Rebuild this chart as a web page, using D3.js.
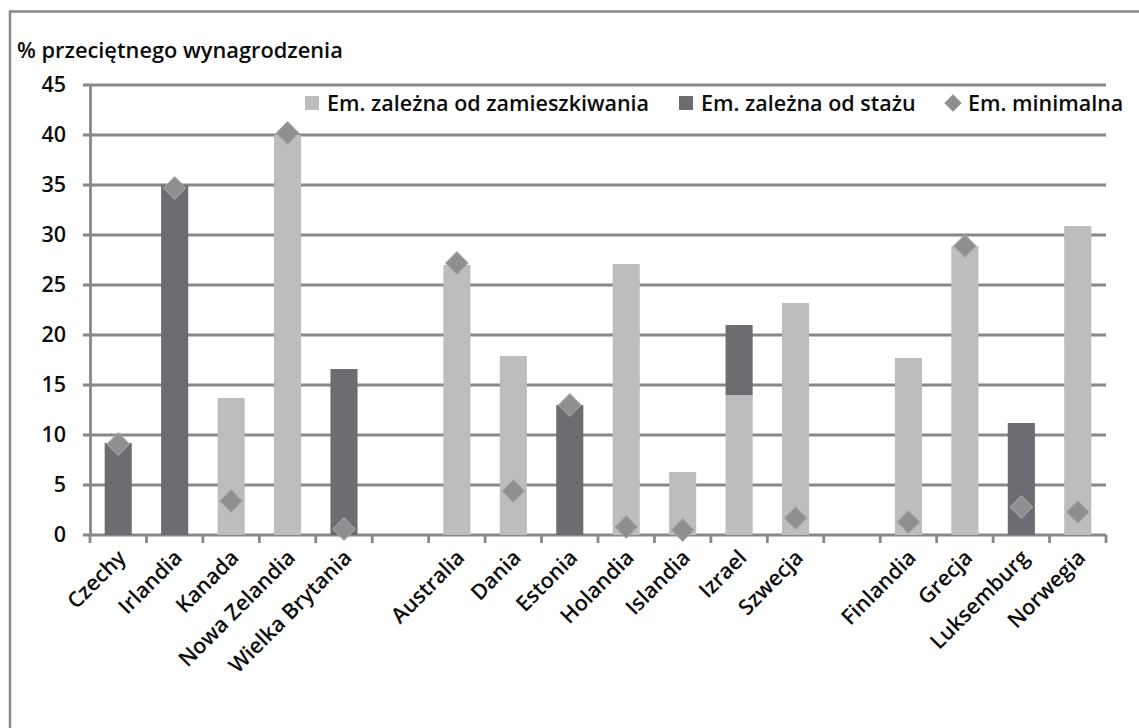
<!DOCTYPE html>
<html>
<head>
<meta charset="utf-8">
<script src="https://cdn.jsdelivr.net/npm/d3@7"></script>
<style>
  body { margin: 0; background: #fff; }
  svg { font-family: "Open Sans", sans-serif; }
</style>
</head>
<body>
<div id="chart"></div>
<script>
// categories (empty strings are the gaps between country groups)
var countries = ["Czechy", "Irlandia", "Kanada", "Nowa Zelandia", "Wielka Brytania", "",
                 "Australia", "Dania", "Estonia", "Holandia", "Islandia", "Izrael", "Szwecja", "",
                 "Finlandia", "Grecja", "Luksemburg", "Norwegia"];

// Em. zależna od zamieszkiwania
var residence = [0, 0, 13.7, 40, 0, null,
                 27, 17.9, 0, 27.1, 6.3, 14, 23.2, null,
                 17.7, 28.9, 0, 30.9];

// Em. zależna od stażu
var seniority = [9.2, 35, 0, 0, 16.6, null,
                 0, 0, 13, 0, 0, 7, 0, null,
                 0, 0, 11.2, 0];

// Em. minimalna
var minimum = [9.1, 34.7, 3.4, 40.2, 0.6, null,
               27.2, 4.4, 13, 0.8, 0.5, null, 1.7, null,
               1.3, 28.9, 2.8, 2.3];

var yTicks = [0, 5, 10, 15, 20, 25, 30, 35, 40, 45];
var legendLabels = ["Em. zależna od zamieszkiwania", "Em. zależna od stażu", "Em. minimalna"];

var 
    width = 1139,
    height = 728,
    light = "#bdbdbf",
    dark = "#6d6d71",
    marker = "#8f8f92",
    gridCol = "#888888",
    ink = "#0d0d0d",
    slots = countries.map(function(d, i){ return i; });

var svg = d3.select("#chart")
            .append("svg")
            .attr("width", width)
            .attr("height", height);

// frame
svg.append("path")
   .attr("d", "M10,740 L10,11.5 L1145,11.5")
   .style("fill", "none")
   .style("stroke", gridCol)
   .style("stroke-width", 2.5);

var x = d3.scaleBand()
          .domain(slots)
          .range([90, 1106])
          .paddingInner(0.52)
          .paddingOuter(0.26);

var y = d3.scaleLinear()
          .domain([0, 45])
          .range([535, 85]);

// grid lines
svg.append("g")
   .selectAll("line")
   .data(yTicks)
   .enter()
   .append("line")
   .attr("x1", 83)
   .attr("x2", 1106)
   .attr("y1", function(d){ return y(d); })
   .attr("y2", function(d){ return y(d); })
   .style("stroke", gridCol)
   .style("stroke-width", 2.8);

// y axis
var yAxis = svg.append("g")
   .attr("transform", "translate(90,0)")
   .call(d3.axisLeft(y).tickValues(yTicks).tickSize(0).tickPadding(24));
yAxis.select(".domain").style("stroke", gridCol).style("stroke-width", 2.8);
yAxis.selectAll("text")
     .style("font-size", "21.5px")
     .style("font-weight", 600)
     .style("fill", ink)
     .style("font-family", "'Open Sans', sans-serif");

// x axis ticks on slot boundaries
var step = x.step();
var bounds = d3.range(countries.length + 1).map(function(i){ return 90 + i * step; });
svg.append("g")
   .selectAll("line")
   .data(bounds)
   .enter()
   .append("line")
   .attr("x1", function(d){ return d; })
   .attr("x2", function(d){ return d; })
   .attr("y1", y(0))
   .attr("y2", y(0) + 8)
   .style("stroke", gridCol)
   .style("stroke-width", 2.8);

// stacked bars
var rows = slots.map(function(i){
    return { i: i, res: residence[i] || 0, sen: seniority[i] || 0, min: minimum[i] };
});

svg.append("g")
   .selectAll("rect")
   .data(rows.filter(function(d){ return d.res > 0; }))
   .enter()
   .append("rect")
   .attr("x", function(d){ return x(d.i); })
   .attr("width", x.bandwidth())
   .attr("y", function(d){ return y(d.res); })
   .attr("height", function(d){ return y(0) - y(d.res); })
   .style("fill", light);

svg.append("g")
   .selectAll("rect")
   .data(rows.filter(function(d){ return d.sen > 0; }))
   .enter()
   .append("rect")
   .attr("x", function(d){ return x(d.i); })
   .attr("width", x.bandwidth())
   .attr("y", function(d){ return y(d.res + d.sen); })
   .attr("height", function(d){ return y(d.res) - y(d.res + d.sen); })
   .style("fill", dark);

// diamonds
var diamond = d3.symbol().type(d3.symbolSquare).size(250);
svg.append("g")
   .selectAll("path")
   .data(rows.filter(function(d){ return d.min != null; }))
   .enter()
   .append("path")
   .attr("d", diamond)
   .attr("transform", function(d){
       return "translate(" + (x(d.i) + x.bandwidth() / 2) + "," + y(d.min) + ") rotate(45)";
   })
   .style("fill", marker)
   .style("stroke", "#a4a4a6")
   .style("stroke-width", 1);

// category labels
svg.append("g")
   .selectAll("text")
   .data(rows.filter(function(d){ return countries[d.i] !== ""; }))
   .enter()
   .append("text")
   .attr("transform", function(d){
       return "translate(" + (x(d.i) + x.bandwidth() / 2 + 9) + "," + (y(0) + 24) + ") rotate(-45)";
   })
   .attr("text-anchor", "end")
   .style("font-size", "21.5px")
   .style("font-weight", 600)
   .style("fill", ink)
   .text(function(d){ return countries[d.i]; });

// title
svg.append("text")
   .attr("x", 17)
   .attr("y", 58)
   .style("font-size", "21.8px")
   .style("font-weight", 600)
   .style("fill", ink)
   .text("% przeciętnego wynagrodzenia");

// legend
var legendX = [305, 679, 944];
var legend = svg.append("g");
legend.selectAll("text")
      .data(legendLabels)
      .enter()
      .append("text")
      .attr("x", function(d, i){ return legendX[i] + (i == 2 ? 24 : 22); })
      .attr("y", 111)
      .style("font-size", "21.5px")
      .style("font-weight", 600)
      .style("fill", ink)
      .text(function(d){ return d; });

legend.append("rect")
      .attr("x", legendX[0]).attr("y", 96)
      .attr("width", 14).attr("height", 14)
      .style("fill", light);
legend.append("rect")
      .attr("x", legendX[1]).attr("y", 96)
      .attr("width", 14).attr("height", 14)
      .style("fill", dark);
legend.append("path")
      .attr("d", d3.symbol().type(d3.symbolSquare).size(150))
      .attr("transform", "translate(" + (legendX[2] + 9) + ",103) rotate(45)")
      .style("fill", marker);
</script>
</body>
</html>
